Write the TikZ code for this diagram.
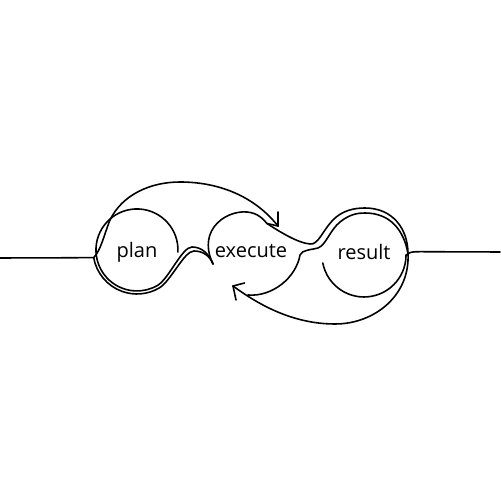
\documentclass[tikz,border=0pt]{standalone}
\usepackage{fontspec}
\setmainfont{Open Sans}
\begin{document}
\begin{tikzpicture}[x=0.02cm,y=0.02cm,
  ink/.style={line width=0.9pt,line join=round,line cap=round},
  lbl/.style={anchor=base,inner sep=0pt,font=\fontsize{11.4pt}{13pt}\selectfont}]
\useasboundingbox (0,0) rectangle (500,500);
% coordinates
\coordinate (L0) at (0,242);
\coordinate (LJ) at (93.67,242.36);
\coordinate (X) at (110,280);
\coordinate (T1) at (278,274);
\coordinate (T1a) at (278,288);
\coordinate (T1b) at (267,276.5);
\coordinate (C) at (213,236);
\coordinate (RJ) at (408,246);
\coordinate (R1) at (500,248);
\coordinate (T2) at (233,214);
\coordinate (T2a) at (244.5,217);
\coordinate (T2b) at (236,200);
% left line
\draw[ink] (L0) -- (60,242.2) -- (LJ);
% plan: outer bottom strand and wave
\draw[ink] (LJ) arc[start angle=190,end angle=300,radius=44]
  .. controls (171.1,218.9) and (184,249) .. (194,249)
  .. controls (203,249) and (210,244) .. (C);
% plan: inner circle and wave
\draw[ink] (177.9,247.9) arc[start angle=-3,end angle=300,radius=41]
  .. controls (168.8,221) and (182,253) .. (192,253)
  .. controls (202,253) and (209,246) .. (C);
% lens strand and big upper arc
\draw[ink] (LJ) .. controls (101,250) and (104,265) .. (X)
  .. controls (122,305) and (150,318) .. (180,318)
  .. controls (220,318) and (255,303) .. (T1);
\draw[ink] (T1) -- (T1a);
\draw[ink] (T1) -- (T1b);
% execute upper contour and upper neck to result outer strand
\draw[ink] (C) .. controls (207,248) and (206,262) .. (214,273)
  .. controls (222,284) and (236,289) .. (247,288)
  .. controls (258,287) and (263,281) .. (T1b)
  .. controls (280,268) and (298,257) .. (310,256)
  .. controls (318,255) and (322,268) .. (332,279)
  .. controls (342,290) and (355,292) .. (365,292)
  .. controls (392,292) and (408,272) .. (RJ);
% execute lower contour and lower neck to result inner strand
\draw[ink] (248,205) .. controls (272,203) and (296,222) .. (300,245)
  .. controls (302,250) and (310,250) .. (318,252)
  .. controls (326,255) and (330,270) .. (340,278)
  .. controls (350,286) and (358,287) .. (365,287)
  .. controls (390,287) and (404,270) .. (RJ);
% result lower circle
\draw[ink] (322.8,237) arc[start angle=191,end angle=360,radius=42] -- (RJ);
% right line
\draw[ink] (RJ) .. controls (410,248) and (413,248.3) .. (420,248.3) -- (R1);
% long lower arrow
\draw[ink] (RJ) .. controls (410,205) and (375,176) .. (335,176)
  .. controls (290,176) and (255,198) .. (T2);
\draw[ink] (T2) -- (T2a);
\draw[ink] (T2) -- (T2b);
% labels
\node[lbl] (plan) at (137,242) {plan};
\node[lbl] (execute) at (251,242) {execute};
\node[lbl] (result) at (364,240) {result};
\end{tikzpicture}
\end{document}
